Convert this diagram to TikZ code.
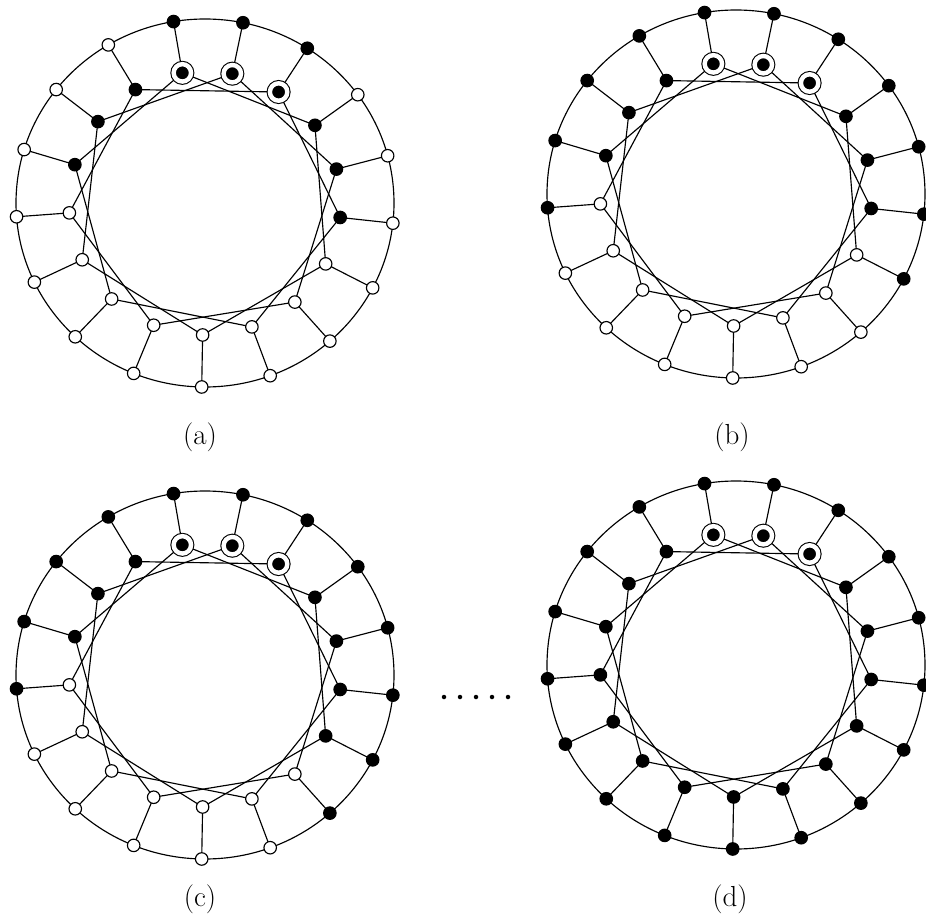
\documentclass[tikz,border=0pt]{standalone}
\pgfdeclarelayer{bg}
\pgfsetlayers{bg,main}
\tikzset{
  edge/.style={line width=1.15pt, draw=black},
  vtx/.style={circle, draw=black, line width=1.15pt, inner sep=0pt, minimum size=12.5pt},
  ringed/.style={circle, draw=black, fill=black, double=white, double distance=4.4pt, line width=1.1pt, inner sep=0pt, minimum size=17.4pt},
  dotmark/.style={circle, fill=black, inner sep=0pt, minimum size=4.5pt},
  caption/.style={font=\fontsize{29}{29}\selectfont, inner sep=0pt}
}
% #1 name, #2 cx, #3 cy, #4 outer-low, #5 outer-high, #6 inner-low, #7 inner-high
\newcommand{\graphpanel}[7]{%
  \begin{pgfonlayer}{bg}
    \draw[edge] (#2,#3) ellipse [x radius=189, y radius=184];
  \end{pgfonlayer}
  \foreach \j in {0,...,16}{%
    \pgfmathsetmacro{\ang}{269+21.17647*\j}%
    \pgfmathtruncatemacro{\ob}{and(\j>=#4,\j<=#5)}%
    \pgfmathtruncatemacro{\ib}{and(\j>=#6,\j<=#7)}%
    \pgfmathtruncatemacro{\rg}{and(\j>=7,\j<=9)}%
    \ifnum\ob=1 \def\ocol{black}\else\def\ocol{white}\fi
    \ifnum\ib=1 \def\icol{black}\else\def\icol{white}\fi
    \node[vtx, fill=\ocol] (#1o\j) at ({#2+189*cos(\ang)},{#3-184*sin(\ang)}) {};
    \ifnum\rg=1
      \node[ringed] (#1i\j) at ({#2+136*cos(\ang)},{#3-132*sin(\ang)}) {};
    \else
      \node[vtx, fill=\icol] (#1i\j) at ({#2+136*cos(\ang)},{#3-132*sin(\ang)}) {};
    \fi
  }
  \begin{pgfonlayer}{bg}
    \foreach \j in {0,...,16}{%
      \pgfmathtruncatemacro{\k}{mod(\j+3,17)}%
      \draw[edge] (#1o\j.center) -- (#1i\j.center);
      \draw[edge] (#1i\j.center) -- (#1i\k.center);
    }
  \end{pgfonlayer}
}
\begin{document}
\begin{tikzpicture}[x=1pt,y=-1pt]
\useasboundingbox (0,0) rectangle (926,917);
\graphpanel{a}{205}{203}{7}{9}{4}{12}
\graphpanel{b}{736}{194}{3}{13}{4}{12}
\graphpanel{c}{205}{675}{2}{13}{3}{12}
\graphpanel{d}{736}{665}{0}{16}{0}{16}
\node[caption] (la) at (200,437) {(a)};
\node[caption] (lb) at (732,437) {(b)};
\node[caption] (lc) at (200,899) {(c)};
\node[caption] (ld) at (730,899) {(d)};
\foreach \x [count=\n] in {444,460,476,492,508}{
  \node[dotmark] (dot\n) at (\x,697) {};
}
\end{tikzpicture}
\end{document}
